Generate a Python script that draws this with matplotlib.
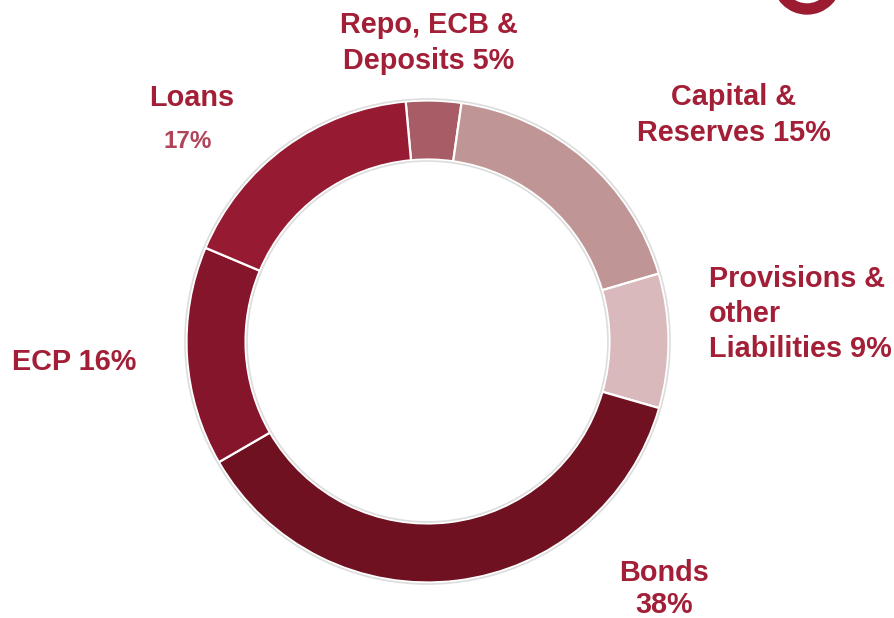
import matplotlib.pyplot as plt
from matplotlib.patches import Wedge

# slice shares as drawn (clockwise from the top), and the printed labels
segments = ['Repo, ECB & Deposits', 'Capital & Reserves', 'Provisions & other Liabilities',
            'Bonds', 'ECP', 'Loans']
shares = [3.7, 18.2, 9.0, 37.2, 14.7, 17.2]
colors = ['#a85d66', '#c09596', '#d9b9bc', '#6f1120', '#85152a', '#961a31']

TXT = '#a31f37'
W, H = 895, 618

fig = plt.figure(figsize=(W / 100, H / 100), dpi=100)
ax = fig.add_axes([0, 0, 1, 1])

cx, cy, r = 427.5, H - 341.5, 241
ax.pie(shares, colors=colors, startangle=95.2, counterclock=False,
       center=(cx, cy), radius=r, frame=True,
       wedgeprops=dict(width=r * 0.245, edgecolor='white', linewidth=1.6))
ax.set_xlim(0, W)
ax.set_ylim(0, H)
ax.set_aspect('equal')
ax.axis('off')

# faint shadow rims
ax.add_patch(plt.Circle((cx, cy), r + 1.5, fill=False, ec='#dddddd', lw=1.2))
ax.add_patch(plt.Circle((cx, cy), r * 0.755 - 1.5, fill=False, ec='#dddddd', lw=1.2))

# logo fragment top right
ax.add_patch(Wedge((807, H + 20), 34, 0, 360, width=10, color='#9b1b30'))

font = dict(family='Liberation Sans', weight='bold', color=TXT, fontsize=20.8)
ax.text(429, H - 43, 'Repo, ECB &\nDeposits 5%', ha='center', va='center', linespacing=1.33, **font)
ax.text(734, H - 115, 'Capital &\nReserves 15%', ha='center', va='center', linespacing=1.33, **font)
ax.text(709, H - 314, 'Provisions &\nother\nLiabilities 9%', ha='left', va='center', linespacing=1.33, **font)
ax.text(12, H - 362, 'ECP 16%', ha='left', va='center', **font)
ax.text(192, H - 98, 'Loans', ha='center', va='center', **font)
ax.text(188, H - 141, '17%', ha='center', va='center', family='Liberation Sans',
        weight='bold', color='#b0455a', fontsize=17.5)
ax.text(664, H - 589, 'Bonds\n38%', ha='center', va='center', linespacing=1.22, **font)

fig.savefig('out.png', dpi=100)
